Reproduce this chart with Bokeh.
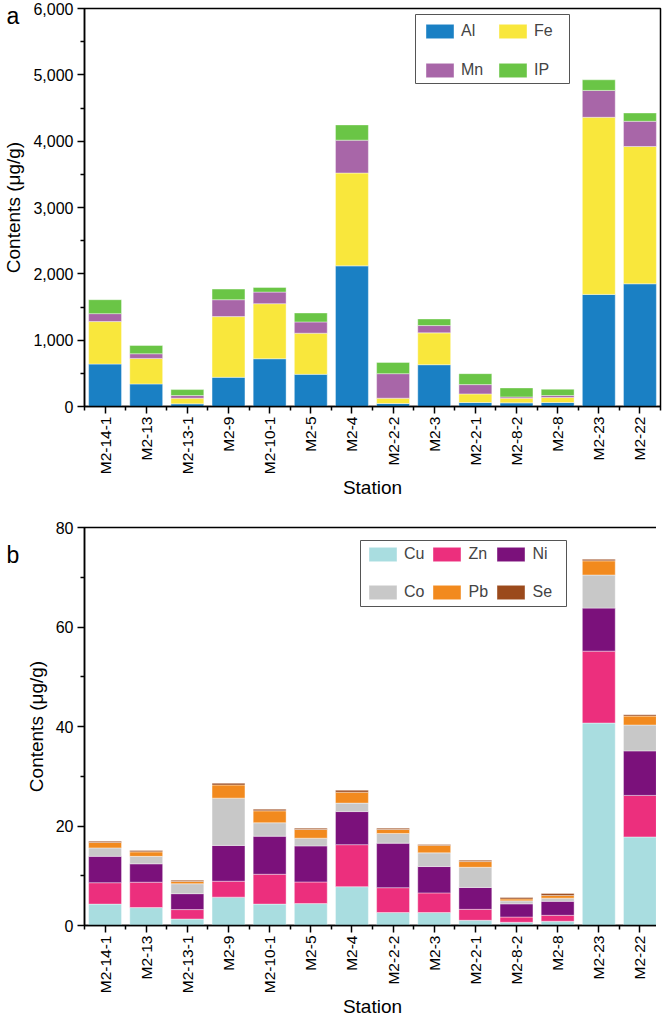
import numpy as np
from bokeh.plotting import figure
from bokeh.layouts import column
from bokeh.models import (FixedTicker, NumeralTickFormatter, Legend, LegendItem,
                          Label, Title, Range1d, ColumnDataSource, BoxAnnotation)
from bokeh.embed import file_html
from bokeh.resources import INLINE

stations = ["M2-14-1", "M2-13", "M2-13-1", "M2-9", "M2-10-1", "M2-5", "M2-4",
            "M2-2-2", "M2-3", "M2-2-1", "M2-8-2", "M2-8", "M2-23", "M2-22"]

# Panel a (µg/g)
al = [640, 340, 40, 440, 720, 485, 2120, 45, 630, 60, 55, 60, 1690, 1850]
fe = [640, 385, 85, 915, 830, 620, 1400, 80, 480, 130, 70, 75, 2670, 2070]
mn = [120, 70, 40, 255, 175, 170, 495, 370, 110, 140, 20, 30, 405, 380]
ip = [210, 125, 90, 160, 70, 135, 230, 170, 100, 165, 135, 95, 160, 125]

# Panel b (µg/g)
cu = [4.3, 3.6, 1.3, 5.7, 4.3, 4.4, 7.8, 2.6, 2.6, 1.05, 0.65, 0.85, 40.7, 17.8]
zn = [4.3, 5.1, 1.9, 3.2, 6.0, 4.35, 8.45, 5.0, 3.95, 2.2, 1.05, 1.2, 14.45, 8.35]
ni = [5.3, 3.7, 3.2, 7.2, 7.65, 7.25, 6.65, 8.95, 5.3, 4.4, 2.65, 2.8, 8.65, 8.95]
co = [1.7, 1.5, 2.0, 9.5, 2.7, 1.55, 1.7, 1.95, 2.75, 4.05, 0.6, 0.65, 6.65, 5.2]
pb = [1.1, 0.9, 0.45, 2.65, 2.4, 1.75, 2.2, 0.8, 1.5, 1.15, 0.4, 0.55, 2.85, 1.8]
se = [0.25, 0.3, 0.25, 0.35, 0.33, 0.27, 0.4, 0.27, 0.2, 0.27, 0.27, 0.4, 0.3, 0.27]

names_a = ["Al", "Fe", "Mn", "IP"]
colors_a = ["#1a80c4", "#f9e73c", "#a866a8", "#6ac546"]
names_b = ["Cu", "Zn", "Ni", "Co", "Pb", "Se"]
colors_b = ["#a9dde0", "#ec2f7d", "#7b117b", "#c8c8c8", "#f28a1e", "#9b4a1c"]

yticks_a = [0, 1000, 2000, 3000, 4000, 5000, 6000]
yminor_a = [500, 1500, 2500, 3500, 4500, 5500]
yticks_b = [0, 20, 40, 60, 80]
yminor_b = [10, 30, 50, 70]

FONT = "Liberation Sans"
FH = 398  # frame height


def make(names, series, colors, ymax, yticks, yminor, top_border):
    xs = list(range(1, len(stations) + 1))
    data = {"x": xs}
    for n, s in zip(names, series):
        data[n] = s
    src = ColumnDataSource(data)
    p = figure(frame_width=576, frame_height=FH,
               x_range=Range1d(0.5, len(stations) + 0.5),
               y_range=Range1d(0, ymax),
               output_backend="svg", toolbar_location=None,
               min_border_left=78, min_border_right=2,
               min_border_top=top_border, min_border_bottom=0)
    rs = p.vbar_stack(names, x="x", width=0.8, source=src,
                      fill_color=colors, line_color="white",
                      line_alpha=0.5, line_width=0.8)
    p.xgrid.visible = False
    p.ygrid.visible = False
    p.outline_line_color = "black"
    p.outline_line_width = 1.5
    p.outline_line_alpha = 1.0
    p.background_fill_color = "white"

    xa = p.xaxis[0]
    xa.ticker = FixedTicker(ticks=xs,
                            minor_ticks=[v - 0.5 for v in xs] + [xs[-1] + 0.5])
    xa.major_label_overrides = {v: s for v, s in zip(xs, stations)}
    xa.major_label_orientation = np.pi / 2
    xa.major_label_text_font_size = "15.5px"
    xa.major_label_standoff = 3
    xa.axis_label = "Station"
    xa.axis_label_standoff = 0

    ya = p.yaxis[0]
    ya.ticker = FixedTicker(ticks=yticks, minor_ticks=yminor)
    ya.formatter = NumeralTickFormatter(format="0,0")
    ya.major_label_text_font_size = "16px"
    ya.major_label_standoff = 4
    ya.axis_label = "Contents (μg/g)"
    ya.axis_label_standoff = 6

    for ax in (xa, ya):
        ax.axis_line_width = 1.5
        ax.major_tick_line_width = 1.5
        ax.minor_tick_line_width = 1.5
        ax.major_tick_out = 7
        ax.major_tick_in = 0
        ax.minor_tick_out = 4
        ax.minor_tick_in = 0
        ax.major_label_text_font = FONT
        ax.major_label_text_color = "black"
        ax.axis_label_text_font = FONT
        ax.axis_label_text_font_size = "19px"
        ax.axis_label_text_font_style = "normal"
        ax.axis_label_text_color = "black"
    return p, rs


def add_legend(p, names, rs, per_row, box, rows_bottom, x0, spacing, label_width):
    left, right, bottom, top = box
    p.add_layout(BoxAnnotation(left=left, right=right, bottom=bottom, top=top,
                               left_units="screen", right_units="screen",
                               bottom_units="screen", top_units="screen",
                               fill_color="white", fill_alpha=1.0,
                               line_color="#555555", line_width=1,
                               line_alpha=1.0))
    items = [LegendItem(label=n, renderers=[r]) for n, r in zip(names, rs)]
    for i, yb in enumerate(rows_bottom):
        row = items[i * per_row:(i + 1) * per_row]
        p.add_layout(Legend(items=row, location=(x0, yb),
                            orientation="horizontal",
                            glyph_width=35, glyph_height=18, label_height=18,
                            label_width=label_width,
                            label_text_font=FONT, label_text_font_size="16px",
                            label_standoff=4, padding=0, spacing=spacing,
                            margin=0, border_line_alpha=0,
                            background_fill_alpha=0))


pa, rsa = make(names_a, [al, fe, mn, ip], colors_a, 6000, yticks_a, yminor_a, 8)
add_legend(pa, names_a, rsa, 2, (331, 485, FH - 75, FH - 6),
           [FH - 32, FH - 71], 338, 8, 26)
pa.add_layout(Title(text="a", align="left", offset=-78, standoff=-41,
                    text_font=FONT, text_font_size="23px",
                    text_font_style="normal", text_color="black"), "above")

pb_, rsb = make(names_b, [cu, zn, ni, co, pb, se], colors_b, 80, yticks_b,
                yminor_b, 26)
add_legend(pb_, names_b, rsb, 3, (276, 482, FH - 79, FH - 13),
           [FH - 36, FH - 74], 297, 5, 20)
pb_.add_layout(Label(x=-78, y=-27, x_units="screen", y_units="screen",
                     text="b", text_font=FONT, text_font_size="23px",
                     text_baseline="alphabetic", text_color="black"), "above")

layout = column(pa, pb_, spacing=0)
open("out.html", "w").write(file_html(layout, INLINE))
